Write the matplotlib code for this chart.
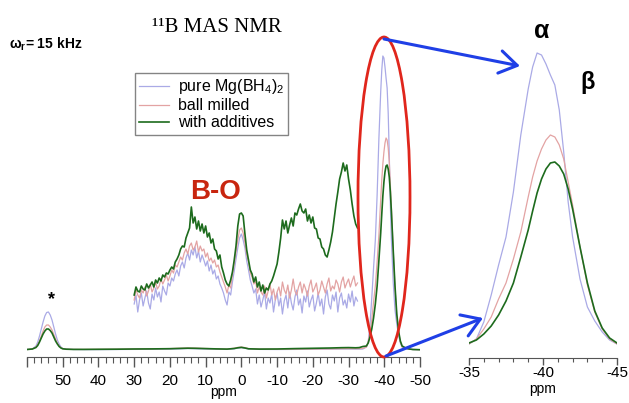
import numpy as np
import matplotlib
matplotlib.use("Agg")
import matplotlib.pyplot as plt
from matplotlib.patches import Ellipse, FancyArrowPatch
from matplotlib.ticker import MultipleLocator

plt.rcParams['font.family'] = ['Liberation Sans', 'DejaVu Sans']
plt.rcParams['mathtext.fontset'] = 'custom'
plt.rcParams['mathtext.rm'] = 'Liberation Sans'
plt.rcParams['mathtext.it'] = 'Liberation Sans:italic'
plt.rcParams['mathtext.bf'] = 'Liberation Sans:bold'
plt.rcParams['mathtext.default'] = 'regular'

# ---------------- data (heights in arbitrary units) ----------------
series_names = ["pure Mg(BH$_4$)$_2$", "ball milled", "with additives"]

main_ppm = [60, 58.5, 57.5, 57, 56.5, 56, 55.5, 55, 54.5, 54, 53.5, 53, 52.5, 52,
            51.5, 51, 50.5, 50, 49, 47, 44, 40, 35, 30, 25, 20, 17, 15, 13, 10, 7,
            4, 2, 1, 0, -1, -2, -5, -10, -15, -20, -25, -28, -30, -32, -33, -34,
            -35, -35.5, -36, -36.5, -37, -37.5, -38, -38.5, -39, -39.3, -39.6,
            -39.9, -40.2, -40.5, -40.8, -41.1, -41.4, -41.7, -42, -42.5, -43,
            -43.5, -44, -44.5, -45, -46, -47, -48, -50]

main_pure = [0.5, 1, 4, 8, 14, 21, 28, 34, 37.5, 38, 35, 30, 23, 16,
             10, 6, 3, 1.5, 0.8, 0.5, 0.4, 0.4, 0.5, 0.6, 0.7, 0.9, 1.2, 1.5, 1.3, 1.0, 0.8,
             0.6, 1.2, 2.0, 2.4, 1.8, 1.0, 0.6, 0.5, 0.6, 0.8, 0.9, 1.0, 1.0, 0.9, 0.9, 1.0,
             3, 8, 25, 52, 82, 110, 155, 212, 258, 280, 294,
             292, 283, 272, 262, 237, 195, 145, 110, 68, 40,
             26, 15, 7, 3, 1.5, 0.8, 0.5, 0.3]

main_ball = [0.5, 1, 3, 5.5, 9, 14, 19, 23, 25, 25, 23, 20, 15.5, 11,
             7, 4, 2.5, 1.2, 0.8, 0.6, 0.6, 0.7, 0.8, 1.0, 1.2, 1.4, 1.8, 2.0, 1.9, 1.5, 1.2,
             0.9, 1.8, 2.6, 3.0, 2.4, 1.4, 0.9, 0.8, 0.9, 1.0, 1.1, 1.3, 1.4, 1.3, 1.4, 1.6,
             3, 8, 18, 30, 48, 64, 88, 115, 150, 170, 186,
             198, 207, 212, 210, 202, 188, 165, 142, 100, 62,
             35, 18, 8, 3, 1.5, 0.8, 0.5, 0.3]

main_add = [0.5, 1, 2.5, 4.5, 8, 12, 16, 19, 21, 21, 19.5, 17, 13, 9,
            6, 3.5, 2, 1.2, 0.8, 0.6, 0.6, 0.7, 0.8, 1.0, 1.1, 1.3, 1.6, 1.8, 1.7, 1.4, 1.1,
            0.9, 1.5, 2.2, 2.6, 2.0, 1.2, 0.9, 1.0, 1.4, 1.7, 2.0, 2.3, 2.4, 2.2, 2.4, 3.5,
            4, 7, 13, 21, 32, 46, 64, 90, 117, 136, 154,
            168, 178, 184, 185, 181, 173, 158, 138, 100, 64,
            36, 19, 9, 4, 2, 1, 0.5, 0.3]

# magnified inset traces, sampled every 0.5 ppm starting at 30 ppm
inset_start = 30.0
inset_step = 0.5
inset_add = [55, 63, 59, 58, 64, 61, 60, 66, 62, 65, 68, 63, 70, 67, 72, 69, 75, 73, 77, 76,
             80, 83, 81, 88, 91, 95, 101, 104, 103, 112, 117, 122, 143, 127, 133, 121, 129, 119, 126, 117,
             124, 113, 117, 107, 111, 101, 99, 91, 95, 83, 77, 70, 66, 64, 70, 78, 90, 104, 124, 136,
             137, 134, 116, 100, 90, 80, 76, 68, 73, 63, 68, 59, 65, 57, 62, 60, 66, 69, 74, 80,
             86, 98, 112, 130, 121, 129, 117, 125, 132, 124, 137, 135, 141, 146, 139, 137, 141, 129, 135, 127,
             133, 122, 121, 112, 111, 103, 101, 95, 93, 100, 108, 118, 132, 146, 158, 171, 178, 187, 179, 185,
             171, 160, 146, 134, 126, 122]
inset_ball = [50, 61, 55, 52, 60, 57, 63, 54, 59, 66, 58, 62, 68, 61, 64, 71, 66, 70, 75, 69,
              74, 80, 77, 85, 83, 88, 93, 90, 97, 101, 96, 104, 107, 100, 103, 109, 98, 104, 99, 101,
              93, 97, 89, 92, 87, 90, 83, 85, 78, 73, 68, 63, 57, 65, 62, 75, 86, 98, 110, 120,
              122, 117, 107, 95, 88, 77, 73, 66, 69, 57, 63, 58, 55, 64, 52, 59, 66, 55, 61, 50,
              58, 63, 54, 68, 60, 56, 65, 52, 60, 71, 59, 55, 63, 68, 57, 66, 61, 54, 64, 70,
              58, 62, 67, 55, 60, 69, 63, 57, 66, 72, 59, 64, 61, 70, 66, 58, 68, 73, 62, 67,
              71, 63, 69, 74, 64, 67]
inset_pure = [46, 55, 38, 50, 57, 44, 52, 59, 47, 41, 56, 50, 62, 53, 58, 48, 64, 59, 55, 67,
              64, 72, 69, 76, 80, 74, 84, 88, 82, 92, 97, 90, 100, 95, 103, 92, 99, 88, 95, 90,
              84, 89, 79, 85, 76, 80, 71, 74, 66, 62, 57, 50, 45, 58, 55, 68, 79, 91, 102, 112,
              116, 110, 102, 89, 80, 70, 64, 57, 61, 46, 55, 43, 50, 58, 41, 52, 47, 56, 38, 50,
              57, 44, 52, 36, 49, 55, 42, 58, 47, 40, 53, 60, 45, 51, 37, 54, 48, 59, 43, 50,
              55, 39, 47, 57, 44, 51, 36, 53, 60, 46, 41, 55, 49, 58, 38, 52, 57, 45, 50, 42,
              56, 48, 59, 44, 53, 49]

main_ticks = [60, 50, 40, 30, 20, 10, 0, -10, -20, -30, -40, -50]
main_ticklabels = ['', '50', '40', '30', '20', '10', '0', '-10', '-20', '-30', '-40', '-50']
zoom_ticks = [-35, -40, -45]
zoom_ticklabels = ['-35', '-40', '-45']

colors = ['#aaaae6', '#e3a3a3', '#1d6b1d']
lws = [0.9, 0.9, 1.2]

# ---------------- figure ----------------
W, H = 629, 403
fig = plt.figure(figsize=(W / 100, H / 100), dpi=100)


def fbox(x0, y0, x1, y1):
    return [x0 / W, 1 - y1 / H, (x1 - x0) / W, (y1 - y0) / H]


ax = fig.add_axes(fbox(27, 40, 420, 357))
ax.set_xlim(60, -50)
ax.set_ylim(-7, 310)

main_series = [main_pure, main_ball, main_add]
for vals, c, lw in zip(main_series, colors, lws):
    ax.plot(main_ppm, vals, color=c, lw=lw)

inset_series = [inset_pure, inset_ball, inset_add]
for vals, c, lw in zip(inset_series, colors, lws):
    x = inset_start - inset_step * np.arange(len(vals))
    ax.plot(x, vals, color=c, lw=lw)

for s in ['left', 'right', 'top']:
    ax.spines[s].set_visible(False)
ax.spines['bottom'].set_color('#555555')
ax.set_yticks([])
ax.set_xticks(main_ticks)
ax.set_xticklabels(main_ticklabels)
ax.xaxis.set_minor_locator(MultipleLocator(2))
ax.tick_params(axis='x', which='major', direction='out', length=7, width=1,
               color='#555555', labelsize=11, pad=5)
ax.tick_params(axis='x', which='minor', direction='out', length=4, width=0.8,
               color='#555555')
ax.set_xlabel('ppm', fontsize=10, labelpad=-2)

# zoomed panel
az = fig.add_axes(fbox(469, 40, 617, 358))
az.set_xlim(-35, -45)
az.set_ylim(-11, 307)
for vals, c, lw in zip(main_series, colors, lws):
    az.plot(main_ppm, vals, color=c, lw=lw)
for s in ['left', 'right', 'top']:
    az.spines[s].set_visible(False)
az.spines['bottom'].set_color('#555555')
az.set_yticks([])
az.set_xticks(zoom_ticks)
az.set_xticklabels(zoom_ticklabels)
az.xaxis.set_minor_locator(MultipleLocator(1))
az.tick_params(axis='x', which='major', direction='out', length=5, width=1,
               color='#555555', labelsize=11, pad=1)
az.tick_params(axis='x', which='minor', direction='out', length=3, width=0.8,
               color='#555555')
az.set_xlabel('ppm', fontsize=10, labelpad=1)

# legend
handles = [plt.Line2D([], [], color=c, lw=lw) for c, lw in zip(colors, lws)]
leg = fig.legend(handles, series_names, loc='upper left',
                 bbox_to_anchor=(135 / W, 1 - 73 / H), fontsize=11.5,
                 frameon=True, fancybox=False, edgecolor='#666666',
                 handlelength=1.85, handletextpad=0.55, labelspacing=0.12,
                 borderpad=0.28, borderaxespad=0)
leg.get_frame().set_linewidth(1.0)

# annotations
fig.text(9 / W, 1 - 44 / H, r'$\omega_r$= 15 kHz', fontsize=10, fontweight='bold',
         va='center', ha='left')
fig.text(217 / W, 1 - 28 / H, '¹¹B MAS NMR', fontsize=15, family='Liberation Serif',
         va='center', ha='center')
fig.text(216 / W, 1 - 192 / H, 'B-O', fontsize=20, fontweight='bold', color='#c8250f',
         va='center', ha='center')
fig.text(52 / W, 1 - 300 / H, '*', fontsize=13, fontweight='bold', va='center', ha='center')
fig.text(542 / W, 1 - 31 / H, 'α', fontsize=18, fontweight='bold', va='center', ha='center')
fig.text(588 / W, 1 - 82 / H, 'β', fontsize=17, fontweight='bold', va='center', ha='center')

ell = Ellipse((384 / W, 1 - 197 / H), 52 / W, 320 / H, transform=fig.transFigure,
              fill=False, edgecolor='#e0261c', lw=2)
fig.add_artist(ell)

for (x0, y0), (x1, y1) in [((384, 39), (520, 66)), ((386, 356), (483, 318))]:
    arr = FancyArrowPatch((x0 / W, 1 - y0 / H), (x1 / W, 1 - y1 / H),
                          transform=fig.transFigure,
                          arrowstyle='->,head_length=0.7,head_width=0.45',
                          mutation_scale=18, color='#1f3fe6', lw=2.2,
                          shrinkA=0, shrinkB=0)
    fig.add_artist(arr)

fig.savefig('out.png', dpi=100)
